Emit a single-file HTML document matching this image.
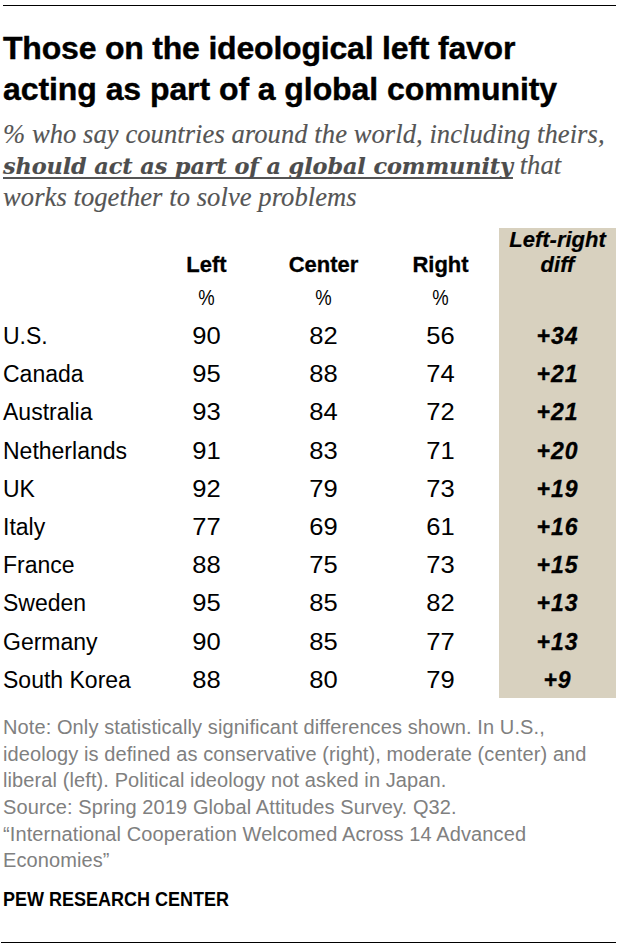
<!DOCTYPE html>
<html>
<head>
<meta charset="utf-8">
<style>
html,body{margin:0;padding:0;background:#fff;}
body{width:620px;height:948px;position:relative;overflow:hidden;font-family:"Liberation Sans",Arial,sans-serif;color:#000;}
.a{position:absolute;white-space:nowrap;line-height:normal;}
.rule{position:absolute;height:1px;background:#000;}
.t{font-weight:bold;font-size:32px;left:3px;-webkit-text-stroke:0.4px #000;}
.s{font-family:"Liberation Serif",serif;font-style:italic;font-size:26.6px;color:#555;left:3px;letter-spacing:0.05px;-webkit-text-stroke:0.15px #555;}
.s b{font-family:"DejaVu Serif","Liberation Serif",serif;font-size:22.4px;color:#4d4d4d;letter-spacing:-0.1px;text-decoration:underline;text-decoration-thickness:2px;text-underline-offset:3px;text-decoration-skip-ink:none;}
.beige{position:absolute;left:499px;top:228px;width:117px;height:470px;background:#d8d1bf;}
.h{font-weight:bold;font-size:22px;text-align:center;width:117px;-webkit-text-stroke:0.3px #000;}
.hd{font-weight:bold;font-style:italic;font-size:22px;text-align:center;width:117px;left:499px;-webkit-text-stroke:0.2px #000;}
.pc{font-size:22px;text-align:center;width:117px;transform:scaleX(0.84);}
.c{font-size:23px;left:3px;margin-top:-1px;}
.n{font-size:23px;text-align:center;width:117px;transform:scaleX(1.11);margin-top:-1px;}
.d{font-size:23px;font-weight:bold;font-style:italic;text-align:center;width:117px;left:499px;letter-spacing:1px;-webkit-text-stroke:0.3px #000;margin-top:-1px;}
.note{font-size:20px;color:#808080;left:3px;letter-spacing:0.1px;}
.pew{font-size:20px;font-weight:bold;left:3px;transform-origin:0 0;transform:scaleX(0.9);}
</style>
</head>
<body>
<div class="rule" style="left:3px;top:5px;width:613px;"></div>

<div class="a t" style="top:30px;letter-spacing:-0.2px;">Those on the ideological left favor</div>
<div class="a t" style="top:71px;letter-spacing:-0.07px;">acting as part of a global community</div>

<div class="a s" style="top:119px;">% who say countries around the world, including theirs,</div>
<div class="a s" style="top:150px;"><b>should act as part of a global community</b> that</div>
<div class="a s" style="top:182px;">works together to solve problems</div>

<div class="beige"></div>
<div class="a hd" style="top:227px;">Left-right</div>
<div class="a hd" style="top:252px;">diff</div>

<div class="a h" style="left:148px;top:252px;">Left</div>
<div class="a h" style="left:265px;top:252px;">Center</div>
<div class="a h" style="left:382px;top:252px;">Right</div>

<div class="a pc" style="left:148px;top:285px;">%</div>
<div class="a pc" style="left:265px;top:285px;">%</div>
<div class="a pc" style="left:382px;top:285px;">%</div>

<div class="a c" style="top:324px;">U.S.</div>
<div class="a n" style="left:148px;top:324px;">90</div>
<div class="a n" style="left:265px;top:324px;">82</div>
<div class="a n" style="left:382px;top:324px;">56</div>
<div class="a d" style="top:324px;">+34</div>

<div class="a c" style="top:362.2px;">Canada</div>
<div class="a n" style="left:148px;top:362.2px;">95</div>
<div class="a n" style="left:265px;top:362.2px;">88</div>
<div class="a n" style="left:382px;top:362.2px;">74</div>
<div class="a d" style="top:362.2px;">+21</div>

<div class="a c" style="top:400.4px;">Australia</div>
<div class="a n" style="left:148px;top:400.4px;">93</div>
<div class="a n" style="left:265px;top:400.4px;">84</div>
<div class="a n" style="left:382px;top:400.4px;">72</div>
<div class="a d" style="top:400.4px;">+21</div>

<div class="a c" style="top:438.6px;">Netherlands</div>
<div class="a n" style="left:148px;top:438.6px;">91</div>
<div class="a n" style="left:265px;top:438.6px;">83</div>
<div class="a n" style="left:382px;top:438.6px;">71</div>
<div class="a d" style="top:438.6px;">+20</div>

<div class="a c" style="top:476.8px;">UK</div>
<div class="a n" style="left:148px;top:476.8px;">92</div>
<div class="a n" style="left:265px;top:476.8px;">79</div>
<div class="a n" style="left:382px;top:476.8px;">73</div>
<div class="a d" style="top:476.8px;">+19</div>

<div class="a c" style="top:515px;">Italy</div>
<div class="a n" style="left:148px;top:515px;">77</div>
<div class="a n" style="left:265px;top:515px;">69</div>
<div class="a n" style="left:382px;top:515px;">61</div>
<div class="a d" style="top:515px;">+16</div>

<div class="a c" style="top:553.2px;">France</div>
<div class="a n" style="left:148px;top:553.2px;">88</div>
<div class="a n" style="left:265px;top:553.2px;">75</div>
<div class="a n" style="left:382px;top:553.2px;">73</div>
<div class="a d" style="top:553.2px;">+15</div>

<div class="a c" style="top:591.4px;">Sweden</div>
<div class="a n" style="left:148px;top:591.4px;">95</div>
<div class="a n" style="left:265px;top:591.4px;">85</div>
<div class="a n" style="left:382px;top:591.4px;">82</div>
<div class="a d" style="top:591.4px;">+13</div>

<div class="a c" style="top:629.6px;">Germany</div>
<div class="a n" style="left:148px;top:629.6px;">90</div>
<div class="a n" style="left:265px;top:629.6px;">85</div>
<div class="a n" style="left:382px;top:629.6px;">77</div>
<div class="a d" style="top:629.6px;">+13</div>

<div class="a c" style="top:667.8px;">South Korea</div>
<div class="a n" style="left:148px;top:667.8px;">88</div>
<div class="a n" style="left:265px;top:667.8px;">80</div>
<div class="a n" style="left:382px;top:667.8px;">79</div>
<div class="a d" style="top:667.8px;">+9</div>

<div class="a note" style="top:716px;">Note: Only statistically significant differences shown. In U.S.,</div>
<div class="a note" style="top:742.5px;">ideology is defined as conservative (right), moderate (center) and</div>
<div class="a note" style="top:769.4px;">liberal (left). Political ideology not asked in Japan.</div>
<div class="a note" style="top:795.8px;">Source: Spring 2019 Global Attitudes Survey. Q32.</div>
<div class="a note" style="top:822.6px;">“International Cooperation Welcomed Across 14 Advanced</div>
<div class="a note" style="top:849px;">Economies”</div>

<div class="a pew" style="top:888px;">PEW RESEARCH CENTER</div>

<div class="rule" style="left:1px;top:942px;width:615px;"></div>
</body>
</html>
